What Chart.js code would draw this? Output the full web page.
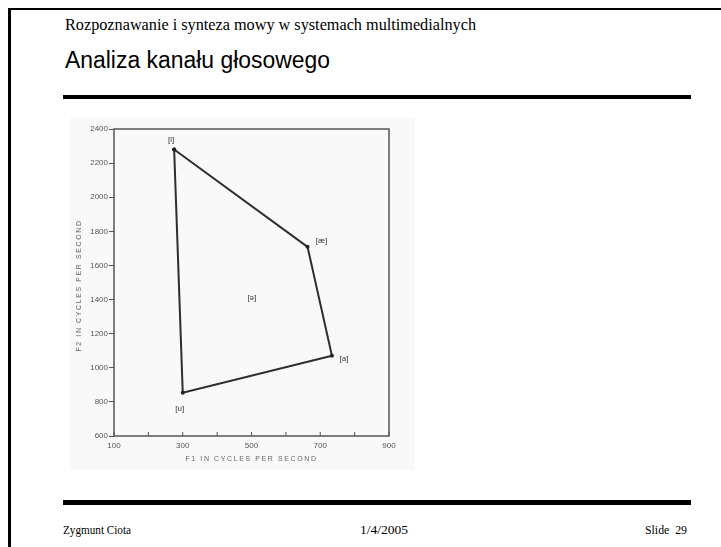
<!DOCTYPE html>
<html>
<head>
<meta charset="utf-8">
<script src="https://cdn.jsdelivr.net/npm/chart.js@4/dist/chart.umd.min.js"></script>
<style>
    body { margin: 0; background: #fff; width: 721px; height: 547px; overflow: hidden; position: relative; }
    .line { position: absolute; background: #000; }
    .txt { position: absolute; white-space: pre; line-height: 1; transform-origin: 0 0; color: #000; }
    .serif { font-family: "Liberation Serif", "Times New Roman", serif; }
    .sans { font-family: "Liberation Sans", Arial, sans-serif; }
    #scan { position: absolute; left: 70px; top: 118px; width: 345px; height: 352px; background: #f9f9f9; }
    #chartBox { position: absolute; left: 64px; top: 115px; width: 350px; height: 360px; }
</style>
</head>
<body>
<div class="line" style="left:8px;top:8px;width:713px;height:2px"></div>
<div class="line" style="left:8px;top:8px;width:2.5px;height:539px"></div>

<div class="txt serif fit" data-w="411" style="left:65px;top:16.6px;font-size:16px">Rozpoznawanie i synteza mowy w systemach multimedialnych</div>
<div class="txt sans fit" data-w="265" style="left:65px;top:48.5px;font-size:23px">Analiza kanału głosowego</div>
<div class="line" style="left:63px;top:95px;width:628px;height:4px"></div>

<div id="scan"></div>
<div id="chartBox"><canvas id="vowelChart" width="350" height="360"></canvas></div>

<div class="line" style="left:63px;top:500px;width:628px;height:5px"></div>
<div class="txt serif fit" data-w="68" style="left:63px;top:524px;font-size:12px">Zygmunt Ciota</div>
<div class="txt serif fit" data-w="48" style="left:360px;top:524px;font-size:12px">1/4/2005</div>
<div class="txt serif fit" data-w="42" style="left:645px;top:524px;font-size:12px">Slide  29</div>

<script>
// vowel corners
const vowelSymbols = ['[i]', '[æ]', '[a]', '[u]'];
const f1Hz = [275, 663, 734, 300];
const f2Hz = [2280, 1709, 1070, 854];

// central vowel, label only
const centralSymbol = '[ə]';
const centralF1 = 501;
const centralF2 = 1410;

// axis ticks
const xTickLabels = [100, 300, 500, 700, 900];
const yTickLabels = [600, 800, 1000, 1200, 1400, 1600, 1800, 2000, 2200, 2400];
const xTitle = 'F1 IN CYCLES PER SECOND';
const yTitle = 'F2 IN CYCLES PER SECOND';

// where each label sits relative to its corner (px)
const labelOffsets = [[-3, -10], [14, -6], [12, 3], [-3, 16]];

document.querySelectorAll('.fit').forEach(function(el) {
    const target = parseFloat(el.dataset.w);
    const natural = el.getBoundingClientRect().width;
    el.style.transform = 'scaleX(' + (target / natural) + ')';
});

// closed outline i -> ae -> a -> u -> i
const outline = f1Hz.map((f1, i) => ({ x: f1, y: f2Hz[i] }));
outline.push(outline[0]);

const scanLook = {
    id: 'scanLook',
    beforeDatasetsDraw(chart) {
        const c = chart.ctx;
        const a = chart.chartArea;
        const xs = chart.scales.x;
        c.save();
        c.strokeStyle = '#555';
        c.lineWidth = 1.5;
        c.strokeRect(a.left, a.top, a.right - a.left, a.bottom - a.top);
        // small inward ticks along the bottom edge
        c.lineWidth = 1;
        xs.ticks.forEach(function(t) {
            const px = xs.getPixelForValue(t.value);
            c.beginPath();
            c.moveTo(px, a.bottom);
            c.lineTo(px, a.bottom - 4);
            c.stroke();
        });
        c.restore();
    },
    afterDraw(chart) {
        const c = chart.ctx;
        const a = chart.chartArea;
        const xs = chart.scales.x;
        const ys = chart.scales.y;
        c.save();
        c.fillStyle = '#333';
        c.font = '8px "Liberation Sans", Arial, sans-serif';
        c.textAlign = 'center';
        c.textBaseline = 'middle';
        vowelSymbols.forEach(function(s, i) {
            const px = xs.getPixelForValue(f1Hz[i]) + labelOffsets[i][0];
            const py = ys.getPixelForValue(f2Hz[i]) + labelOffsets[i][1];
            c.fillText(s, px, py);
        });
        c.fillText(centralSymbol, xs.getPixelForValue(centralF1), ys.getPixelForValue(centralF2));

        // axis titles, spaced out like the scan
        c.fillStyle = '#666';
        c.font = '7px "Liberation Sans", Arial, sans-serif';
        c.letterSpacing = '1.6px';
        c.fillText(xTitle, (a.left + a.right) / 2, a.bottom + 23);
        c.translate(15, (a.top + a.bottom) / 2 + 3);
        c.rotate(-Math.PI / 2);
        c.fillText(yTitle, 0, 0);
        c.restore();
    }
};

new Chart(document.getElementById('vowelChart'), {
    type: 'scatter',
    data: {
        datasets: [{
            data: outline,
            showLine: true,
            borderColor: '#2e2e2e',
            borderWidth: 2,
            tension: 0,
            pointRadius: 2,
            pointBackgroundColor: '#222',
            pointBorderWidth: 0
        }]
    },
    options: {
        responsive: false,
        animation: false,
        layout: { padding: { top: 14, right: 25, left: 0, bottom: 0 } },
        plugins: { legend: { display: false }, tooltip: { enabled: false } },
        scales: {
            x: {
                type: 'linear',
                min: 100,
                max: 900,
                ticks: {
                    stepSize: 100,
                    autoSkip: false,
                    maxRotation: 0,
                    padding: 5,
                    color: '#555',
                    font: { size: 8, family: '"Liberation Sans", Arial, sans-serif' },
                    callback: v => xTickLabels.includes(v) ? String(v) : ''
                },
                grid: { display: false, drawTicks: false },
                border: { display: false },
                afterFit: s => { s.height = 39; }
            },
            y: {
                type: 'linear',
                min: 600,
                max: 2400,
                ticks: {
                    stepSize: 200,
                    autoSkip: false,
                    padding: 1,
                    color: '#555',
                    font: { size: 8, family: '"Liberation Sans", Arial, sans-serif' },
                    callback: v => yTickLabels.includes(v) ? String(v) : ''
                },
                grid: { drawOnChartArea: false, tickLength: 5, color: '#555' },
                border: { display: false },
                afterFit: s => { s.width = 50; }
            }
        }
    },
    plugins: [scanLook]
});
</script>
</body>
</html>
